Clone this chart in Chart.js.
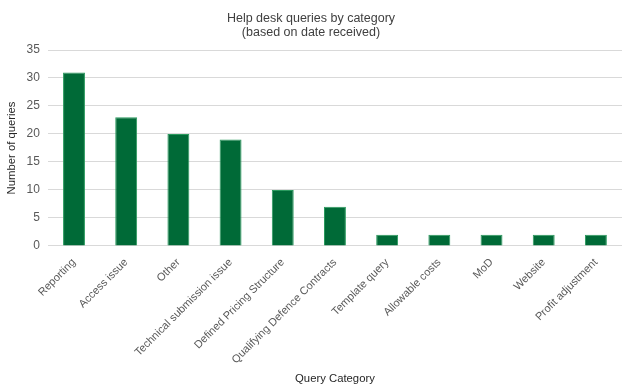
<!DOCTYPE html>
<html lang="en">
<head>
    <meta charset="UTF-8">
    <title>Help desk queries by category</title>
    <script src="https://cdn.jsdelivr.net/npm/chart.js"></script>
    <style>
        body {
            margin: 0;
            background-color: #ffffff;
        }
        .wrap {
            width: 622px;
            height: 386px;
        }
    </style>
</head>
<body>
    <div class="wrap"><canvas id="queryChart"></canvas></div>

    <script>
        // Query categories and number of queries received
        const categories = [
            'Reporting', 'Access issue', 'Other', 'Technical submission issue',
            'Defined Pricing Structure', 'Qualifying Defence Contracts',
            'Template query', 'Allowable costs', 'MoD', 'Website', 'Profit adjustment'
        ];
        const queryCounts = [31, 23, 20, 19, 10, 7, 2, 2, 2, 2, 2];
        const yTicks = [0, 5, 10, 15, 20, 25, 30, 35];

        const textColor = '#595959';
        const fontFamily = "'Liberation Sans', Arial, sans-serif";

        const ctx = document.getElementById('queryChart').getContext('2d');
        const queryChart = new Chart(ctx, {
            type: 'bar',
            data: {
                labels: categories,
                datasets: [{
                    label: 'Number of queries',
                    data: queryCounts,
                    backgroundColor: '#006a37',
                    borderColor: '#2a9a5e',
                    borderWidth: 1,
                    categoryPercentage: 1,
                    barPercentage: 0.42
                }]
            },
            options: {
                responsive: true,
                maintainAspectRatio: false,
                animation: false,
                layout: {
                    padding: { left: 0, right: 0, top: 0, bottom: 0 }
                },
                plugins: {
                    legend: { display: false },
                    tooltip: { enabled: false },
                    title: {
                        display: true,
                        text: ['Help desk queries by category', '(based on date received)'],
                        color: '#404040',
                        font: { family: fontFamily, size: 12.5, weight: 'normal', lineHeight: 1.12 },
                        padding: { top: 12, bottom: 10 }
                    }
                },
                scales: {
                    x: {
                        grid: { display: false },
                        border: { display: false },
                        ticks: {
                            color: textColor,
                            font: { family: fontFamily, size: 11 },
                            minRotation: 45,
                            maxRotation: 45,
                            autoSkip: false,
                            padding: 2
                        },
                        title: {
                            display: true,
                            text: 'Query Category',
                            color: '#262626',
                            font: { family: fontFamily, size: 11.3 },
                            padding: { top: 4, bottom: 0 }
                        }
                    },
                    y: {
                        min: 0,
                        max: 35,
                        afterBuildTicks: (axis) => {
                            axis.ticks = yTicks.map(v => ({ value: v }));
                        },
                        grid: { color: '#d9d9d9', lineWidth: 1, drawTicks: false },
                        border: { display: false },
                        ticks: {
                            color: textColor,
                            font: { family: fontFamily, size: 12 },
                            padding: 8
                        },
                        title: {
                            display: true,
                            text: 'Number of queries',
                            color: '#262626',
                            font: { family: fontFamily, size: 11.3 },
                            padding: { top: 5, bottom: 0 }
                        }
                    }
                }
            }
        });
    </script>
</body>
</html>
